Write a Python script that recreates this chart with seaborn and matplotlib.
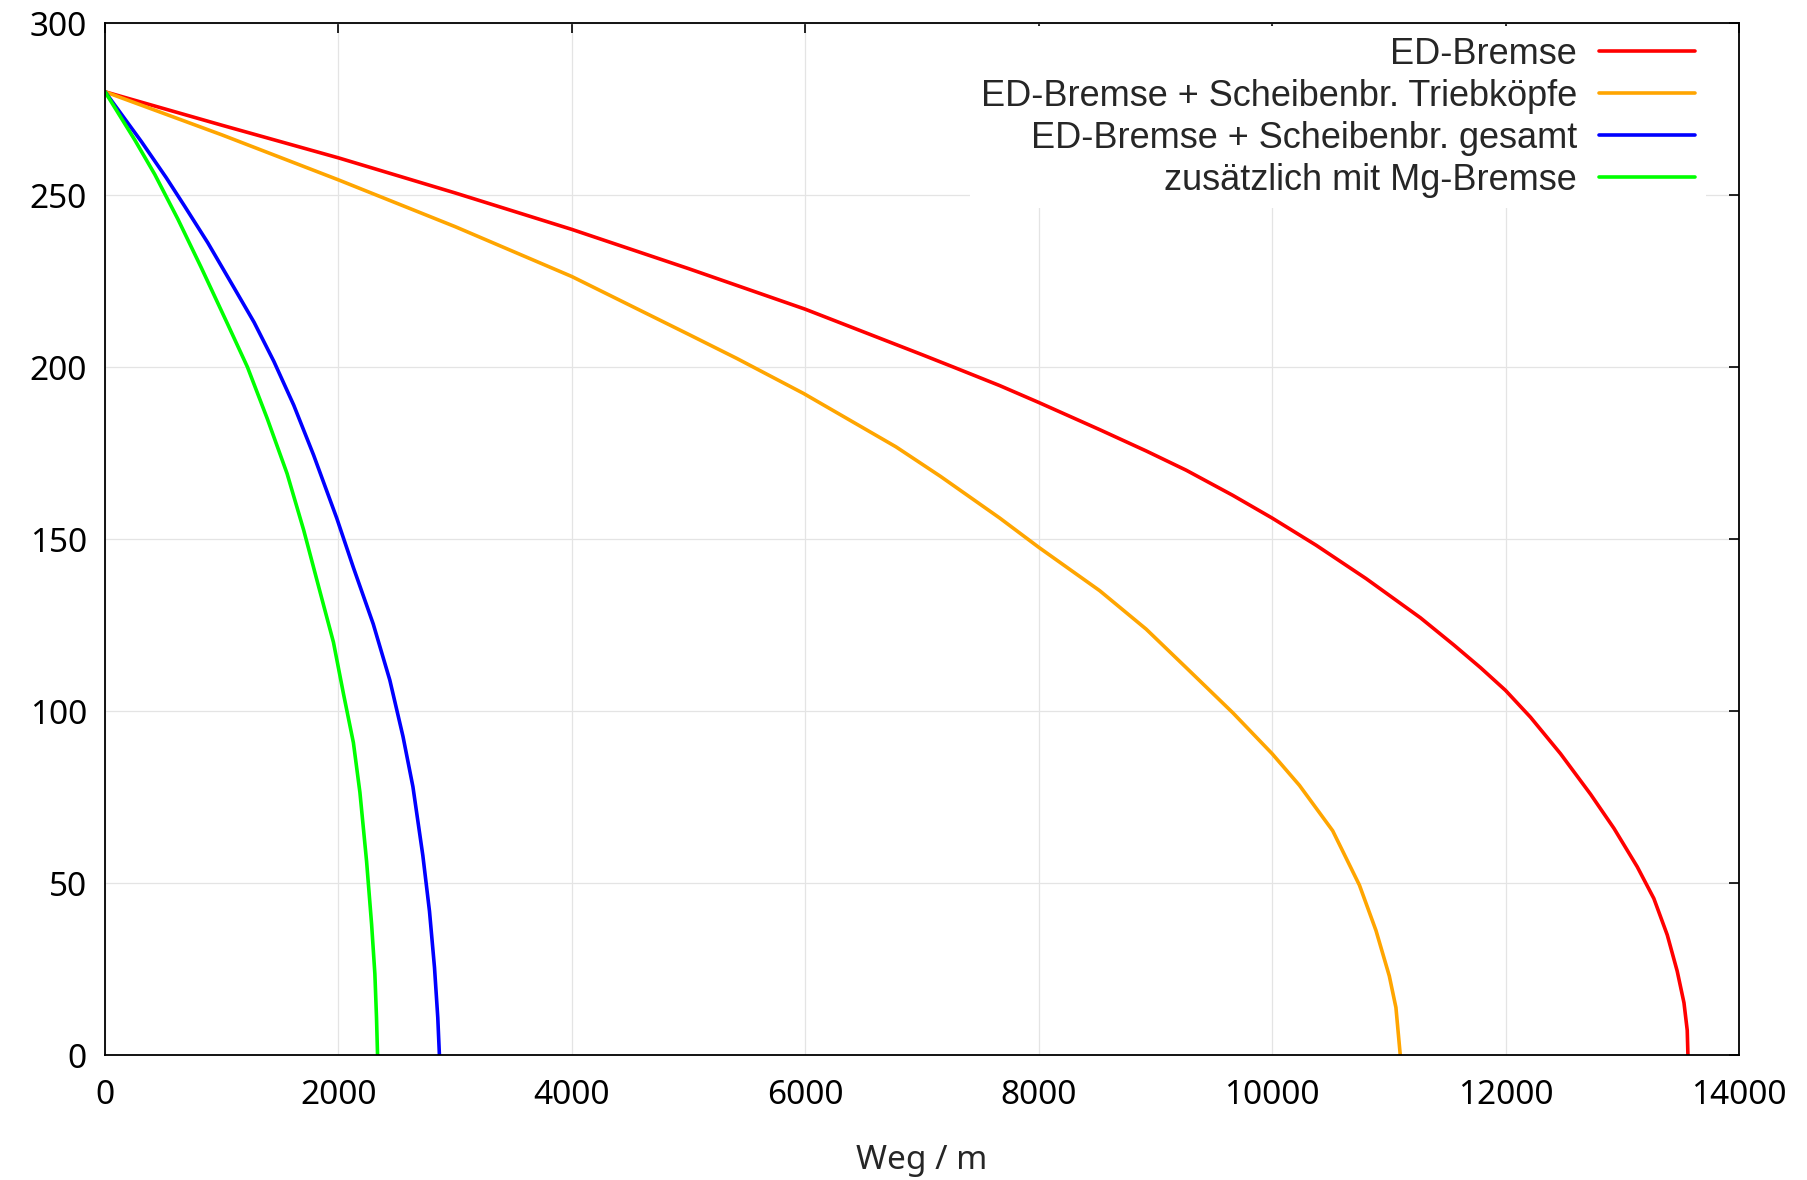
import numpy as np
import pandas as pd
import matplotlib
matplotlib.use("Agg")
import matplotlib.pyplot as plt
import seaborn as sns

# Bremskurven: Geschwindigkeit (km/h) ueber Weg (m)
namen = ["ED-Bremse",
         "ED-Bremse + Scheibenbr. Triebköpfe",
         "ED-Bremse + Scheibenbr. gesamt",
         "zusätzlich mit Mg-Bremse"]
farben = ["#ff0000", "#ffa500", "#0000ff", "#00ff00"]

weg_ed = [0, 1000, 2000, 3000, 4000, 5000, 6000, 7000, 7268, 7666, 8000,
          8522, 8921, 9264, 9663, 10000, 10377, 10805, 11271, 11557, 11786,
          12000, 12214, 12471, 12729, 12929, 13129, 13271, 13386, 13471,
          13529, 13557, 13563]
v_ed = [280, 270.3, 260.8, 250.6, 240, 228.6, 216.8, 203.6, 200, 194.6,
        189.7, 181.8, 175.6, 170, 162.7, 156.1, 148.2, 138.5, 127.1, 119.2,
        112.6, 106, 98.2, 87.6, 75.8, 65.9, 54.7, 45.5, 34.9, 24.4,
        15.2, 7.2, 0]

weg_tk = [0, 1000, 2000, 3000, 4000, 5000, 5413, 5986, 6777, 7159, 7666,
          8000, 8522, 8921, 9264, 9663, 10000, 10234, 10519, 10748, 10890,
          11004, 11061, 11098]
v_tk = [280, 267.5, 254.4, 240.8, 226.3, 209.5, 202.5, 192.3, 176.8, 168.2,
        156.1, 147.6, 135, 123.8, 112.6, 99.5, 87.6, 78.4, 65.2, 49.4, 36.2,
        23, 13.8, 0]

weg_ges = [0, 312, 525, 681, 879, 1106, 1277, 1447, 1617, 1787, 1986, 2128,
           2298, 2440, 2553, 2638, 2723, 2780, 2823, 2851, 2865]
v_ges = [280, 265.5, 255, 246.8, 236.2, 223, 213, 201.6, 188.9, 174.4, 156,
         141.7, 125.3, 109, 92.6, 78, 58, 41.8, 25.4, 10.9, 0]

weg_mg = [0, 255, 426, 624, 823, 1050, 1220, 1390, 1560, 1702, 1844, 1957,
          2043, 2128, 2184, 2241, 2284, 2312, 2326, 2335]
v_mg = [280, 266, 256, 243, 229, 212.5, 200, 185, 169, 152.6, 134.4, 120,
        105, 90.8, 76.3, 56.3, 38, 23.6, 10.9, 0]

xticks = [0, 2000, 4000, 6000, 8000, 10000, 12000, 14000]
yticks = [0, 50, 100, 150, 200, 250, 300]

frames = []
for name, w, v in zip(namen, [weg_ed, weg_tk, weg_ges, weg_mg],
                      [v_ed, v_tk, v_ges, v_mg]):
    frames.append(pd.DataFrame({"Weg": w, "v": v, "Bremse": name}))
df = pd.concat(frames, ignore_index=True)

sns.set_theme(style="white")
plt.rcParams["font.family"] = ["Noto Sans", "DejaVu Sans"]

fig = plt.figure(figsize=(18.08, 11.8), dpi=100)
ax = fig.add_axes([0.0581, 0.1059, 0.9618 - 0.0581, 0.9805 - 0.1059])

sns.lineplot(data=df, x="Weg", y="v", hue="Bremse", hue_order=namen,
             palette=farben, estimator=None, sort=False, linewidth=2.6, ax=ax)

ax.set_xlim(0, 14000)
ax.set_ylim(0, 300)
ax.set_xticks(xticks)
ax.set_yticks(yticks)
ax.grid(True, color="#e4e4e4", linewidth=0.9)
ax.set_axisbelow(True)
for s in ax.spines.values():
    s.set_color("black")
    s.set_linewidth(1.3)
ax.tick_params(direction="in", length=7, width=1.2, top=True, right=True,
               labelsize=24, colors="black", pad=13)
ax.tick_params(axis="x", pad=17)
ax.set_xlabel("Weg / m", fontsize=24, labelpad=23)
ax.set_ylabel("")

h, l = ax.get_legend_handles_labels()
leg = ax.legend(h, l, loc="upper right", bbox_to_anchor=(0.980, 0.997),
                borderaxespad=0, markerfirst=False, frameon=True,
                fancybox=False, facecolor="white", edgecolor="none",
                framealpha=1.0, prop={"family": "Liberation Sans", "size": 26},
                handlelength=2.66, handletextpad=0.62, labelspacing=0.19,
                borderpad=0.3)
for t in leg.get_texts():
    t.set_ha("right")

fig.savefig("out.png", dpi=100)
